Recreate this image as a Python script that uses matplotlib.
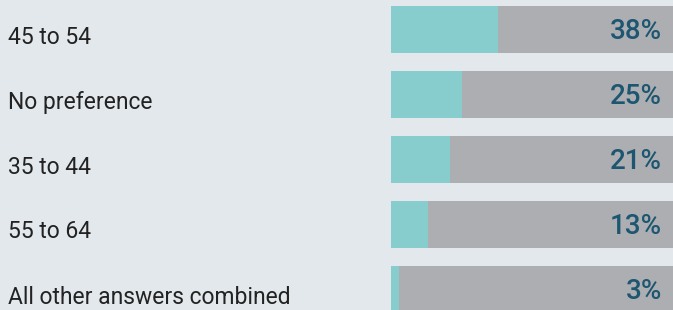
import matplotlib.pyplot as plt
from matplotlib import transforms

categories = ["45 to 54", "No preference", "35 to 44", "55 to 64", "All other answers combined"]
values = [38, 25, 21, 13, 3]
value_labels = ["38%", "25%", "21%", "13%", "3%"]

BG = "#e3e8ec"
TEAL = "#88cdcd"
GRAY = "#adaeb2"
PCT_COLOR = "#1d5670"
LABEL_COLOR = "#222222"

W, H = 673, 310
fig = plt.figure(figsize=(W / 100, H / 100), dpi=100, facecolor=BG)
ax = fig.add_axes([391 / W, 0, 282 / W, 1])
ax.set_facecolor(BG)
ax.axis("off")

pitch = 65
first_center = 29.5
ax.set_xlim(0, 100)
ax.set_ylim((H - first_center) / pitch, -first_center / pitch)

ys = list(range(len(categories)))
bar_h = 47.5 / pitch
ax.barh(ys, [100] * len(ys), height=bar_h, color=GRAY, linewidth=0)
ax.barh(ys, values, height=bar_h, color=TEAL, linewidth=0)

label_tf = transforms.blended_transform_factory(fig.transFigure, ax.transData)
pct_tf = transforms.blended_transform_factory(ax.transAxes, ax.transData)
for y, cat, lab in zip(ys, categories, value_labels):
    ax.text(8 / W, y + 5 / pitch, cat, transform=label_tf, ha="left", va="center_baseline",
            fontsize=16.5, family="Roboto", color=LABEL_COLOR)
    ax.text(1 - 11 / 282, y - 1 / pitch, lab, transform=pct_tf,
            ha="right", va="center_baseline", fontsize=20, family="Roboto",
            fontweight="medium", color=PCT_COLOR)

fig.savefig("out.png", dpi=100, facecolor=BG)
